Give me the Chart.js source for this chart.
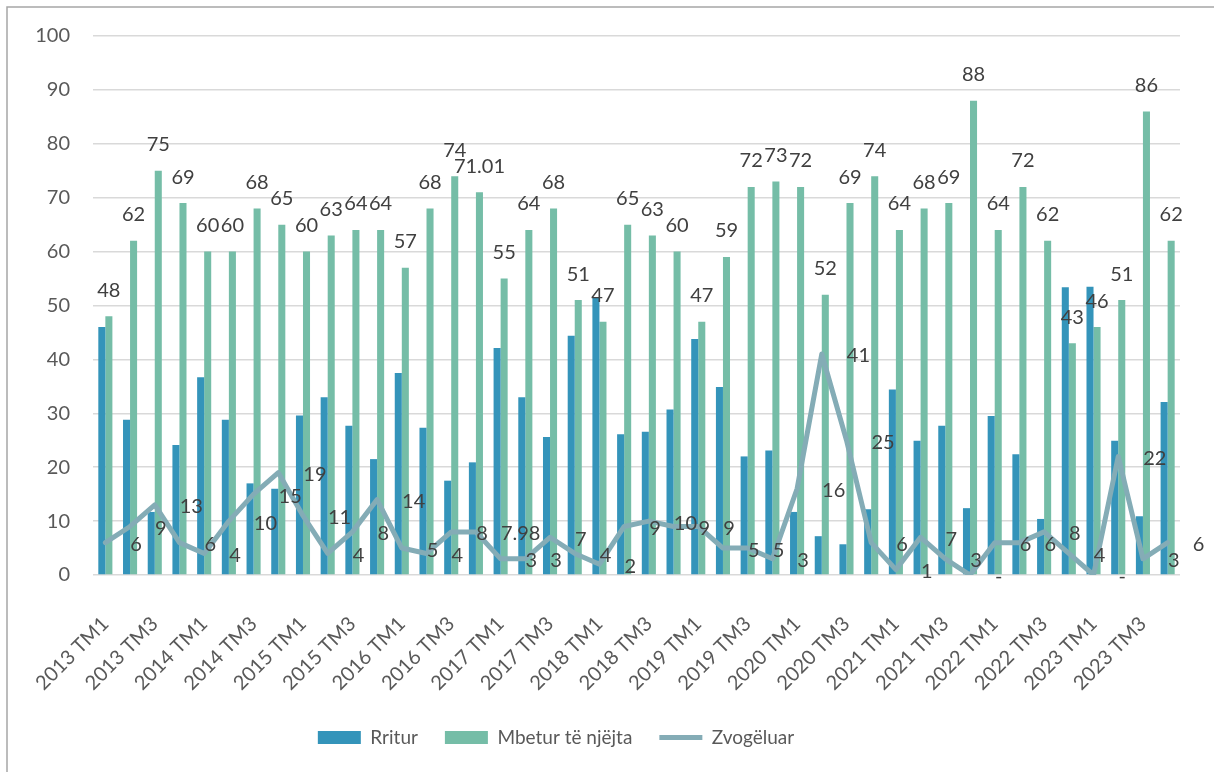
<!DOCTYPE html>
<html>
<head>
<meta charset="utf-8">
<script src="https://cdn.jsdelivr.net/npm/chart.js@4.4.1/dist/chart.umd.min.js"></script>
<style>
  html, body { margin: 0; padding: 0; background: #fff; }
  #wrap { width: 1214px; height: 772px; }
</style>
</head>
<body>
<div id="wrap"><canvas id="chart" width="1214" height="772"></canvas></div>
<script>
// Tremujorët (kategoritë)
const QUARTERS = [
    "2013 TM1", "2013 TM2", "2013 TM3", "2013 TM4",
    "2014 TM1", "2014 TM2", "2014 TM3", "2014 TM4",
    "2015 TM1", "2015 TM2", "2015 TM3", "2015 TM4",
    "2016 TM1", "2016 TM2", "2016 TM3", "2016 TM4",
    "2017 TM1", "2017 TM2", "2017 TM3", "2017 TM4",
    "2018 TM1", "2018 TM2", "2018 TM3", "2018 TM4",
    "2019 TM1", "2019 TM2", "2019 TM3", "2019 TM4",
    "2020 TM1", "2020 TM2", "2020 TM3", "2020 TM4",
    "2021 TM1", "2021 TM2", "2021 TM3", "2021 TM4",
    "2022 TM1", "2022 TM2", "2022 TM3", "2022 TM4",
    "2023 TM1", "2023 TM2", "2023 TM3", "2023 TM4",
];

const RRITUR = [
    46, 28.8, 11.7, 24.1, 36.7, 28.8, 17, 16, 29.6, 33,
    27.7, 21.5, 37.5, 27.3, 17.5, 20.9, 42.1, 33, 25.6, 44.4,
    51.5, 26.1, 26.6, 30.7, 43.8, 34.9, 22, 23.1, 11.7, 7.2,
    5.7, 12.2, 34.4, 24.9, 27.7, 12.4, 29.5, 22.4, 10.4, 53.4,
    53.5, 24.9, 10.9, 32.1,
];

const MBETUR = [
    48, 62, 75, 69, 60, 60, 68, 65, 60, 63,
    64, 64, 57, 68, 74, 71.01, 55, 64, 68, 51,
    47, 65, 63, 60, 47, 59, 72, 73, 72, 52,
    69, 74, 64, 68, 69, 88, 64, 72, 62, 43,
    46, 51, 86, 62,
];

const ZVOGELUAR = [
    6, 9, 13, 6, 4, 10, 15, 19, 11, 4,
    8, 14, 5, 4, 8, 7.98, 3, 3, 7, 4,
    2, 9, 10, 9, 9, 5, 5, 3, 16, 41,
    25, 6, 1, 7, 3, 0, 6, 6, 8, 4,
    0, 22, 3, 6,
];

const Y_TICKS = [0, 10, 20, 30, 40, 50, 60, 70, 80, 90, 100];

const COLORS = {
    blue: "#3494BA",
    green: "#75BDA7",
    line: "#84ACB6",
    grid: "#D9D9D9",
    axis: "#595959",
    label: "#404040",
    frame: "#A6A6A6",
};

const FONT = "Lato, 'Open Sans', sans-serif";
const fmt = (v) => (v === 0 ? "-" : String(v));

// kornizë e grafikut + qendërzim i legjendës
const frame = {
    id: "frame",
    afterLayout(chart) {
        chart.legend.left = 0;
        chart.legend.right = 1112;
    },
    beforeDraw(chart) {
        const { ctx } = chart;
        ctx.save();
        ctx.strokeStyle = COLORS.frame;
        ctx.lineWidth = 1.5;
        ctx.beginPath();
        ctx.moveTo(7, chart.height);
        ctx.lineTo(7, 7);
        ctx.lineTo(chart.width, 7);
        ctx.stroke();
        ctx.restore();
    },
};

// etiketat e vlerave
const valueLabels = {
    id: "valueLabels",
    afterDatasetsDraw(chart) {
        const { ctx } = chart;
        ctx.save();
        ctx.font = `20px ${FONT}`;
        ctx.fillStyle = COLORS.label;
        ctx.textBaseline = "middle";

        ctx.textAlign = "center";
        chart.getDatasetMeta(1).data.forEach((el, i) => {
            ctx.fillText(fmt(MBETUR[i]), el.x, el.y - 26);
        });

        ctx.textAlign = "left";
        chart.getDatasetMeta(2).data.forEach((el, i) => {
            ctx.fillText(fmt(ZVOGELUAR[i]), el.x + 25, el.y + 2);
        });
        ctx.restore();
    },
};

Chart.defaults.font.family = FONT;
Chart.defaults.font.size = 20;
Chart.defaults.color = COLORS.axis;

new Chart(document.getElementById("chart").getContext("2d"), {
    type: "bar",
    data: {
        labels: QUARTERS,
        datasets: [
            {
                label: "Rritur",
                data: RRITUR,
                backgroundColor: COLORS.blue,
                borderWidth: 0,
                pointStyle: "rect",
                order: 1,
            },
            {
                label: "Mbetur të njëjta",
                data: MBETUR,
                backgroundColor: COLORS.green,
                borderWidth: 0,
                pointStyle: "rect",
                order: 1,
            },
            {
                type: "line",
                label: "Zvogëluar",
                data: ZVOGELUAR,
                borderColor: COLORS.line,
                backgroundColor: COLORS.line,
                borderWidth: 5,
                borderCapStyle: "round",
                borderJoinStyle: "round",
                pointRadius: 0,
                pointHoverRadius: 0,
                pointStyle: "line",
                tension: 0,
                order: 0,
            },
        ],
    },
    options: {
        responsive: false,
        animation: false,
        devicePixelRatio: 1,
        layout: { padding: { top: 36, right: 34, bottom: 15, left: 0 } },
        datasets: { bar: { categoryPercentage: 0.57, barPercentage: 1 } },
        plugins: {
            tooltip: { enabled: false },
            legend: {
                position: "bottom",
                labels: {
                    usePointStyle: true,
                    pointStyleWidth: 43,
                    boxHeight: 13,
                    padding: 27,
                    color: COLORS.axis,
                    font: { size: 19 },
                    sort: (a, b) => a.datasetIndex - b.datasetIndex,
                },
            },
        },
        scales: {
            x: {
                grid: { display: false },
                border: { display: false },
                afterFit: (s) => { s.height = 126; },
                ticks: {
                    autoSkip: false,
                    minRotation: 45,
                    maxRotation: 45,
                    padding: 29,
                    color: COLORS.axis,
                    callback: (v, i) => (i % 2 === 0 ? QUARTERS[i] : ""),
                },
            },
            y: {
                min: Y_TICKS[0],
                max: Y_TICKS[Y_TICKS.length - 1],
                afterFit: (s) => { s.width = 93; },
                afterBuildTicks: (s) => { s.ticks = Y_TICKS.map((v) => ({ value: v })); },
                border: { display: false },
                grid: { color: COLORS.grid, lineWidth: 1.5, drawTicks: false },
                ticks: { padding: 23, color: COLORS.axis },
            },
        },
    },
    plugins: [frame, valueLabels],
});
</script>
</body>
</html>
